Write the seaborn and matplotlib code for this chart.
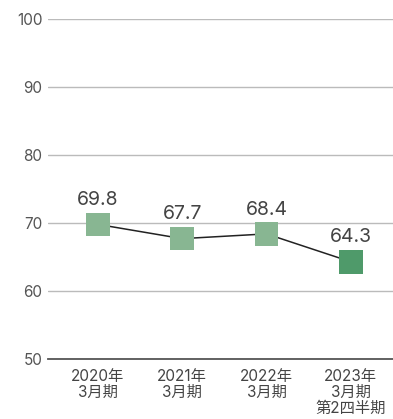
import matplotlib
matplotlib.use("Agg")
import matplotlib.pyplot as plt
import seaborn as sns
import pandas as pd

categories = ["2020年\n3月期", "2021年\n3月期", "2022年\n3月期", "2023年\n3月期\n第2四半期"]
values = [69.8, 67.7, 68.4, 64.3]
kinds = ["past", "past", "past", "current"]
yticks = [50, 60, 70, 80, 90, 100]

sns.set_style("white")
plt.rcParams['font.family'] = ['Inter', 'Noto Sans CJK JP', 'DejaVu Sans']

df = pd.DataFrame({"period": categories, "value": values, "kind": kinds})
df["pos"] = range(len(df))

fig = plt.figure(figsize=(3.93, 4.19), dpi=100)
ax = fig.add_axes([48/393, 1 - 359/419, 1 - 48/393, (359 - 19)/419])

sns.lineplot(data=df, x="pos", y="value", color="#222222", linewidth=1.1, ax=ax, zorder=2)
sns.scatterplot(data=df, x="pos", y="value", hue="kind", marker="s", s=290,
                palette={"past": "#88b692", "current": "#4f9a6a"}, edgecolor="none",
                legend=False, ax=ax, zorder=3)

for i, v in enumerate(values):
    ax.annotate(f"{v:.1f}", (i, v), xytext=(0, 11), textcoords="offset points",
                ha="center", va="bottom", fontsize=14, color="#444444")

ax.set_ylim(50, 100)
ax.set_xlim(-0.59, 3.5)
ax.set_yticks(yticks)
ax.set_xticks(range(len(categories)))
ax.set_xticklabels(categories, fontsize=11, color="#444444", linespacing=1.1)
ax.tick_params(axis="y", labelsize=11, colors="#555555", length=0, pad=4)
ax.tick_params(axis="x", length=0, pad=7)
ax.yaxis.grid(True, color="#bbbbbb", linewidth=1)
ax.set_axisbelow(True)
for side in ["top", "right", "left"]:
    ax.spines[side].set_visible(False)
ax.spines["bottom"].set_color("#555555")
ax.spines["bottom"].set_linewidth(1.3)
ax.set_xlabel("")
ax.set_ylabel("")

fig.savefig("out.png", dpi=100)
